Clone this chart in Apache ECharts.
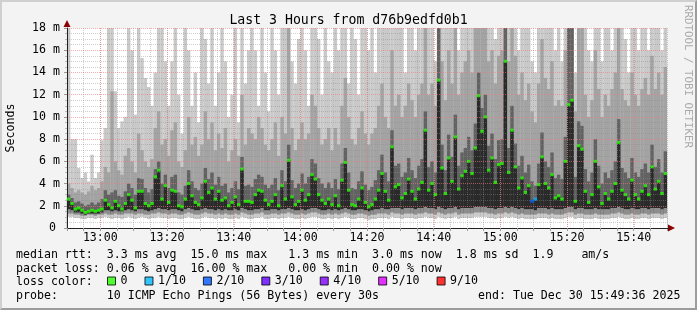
<!DOCTYPE html>
<html><head><meta charset="utf-8">
<script src="https://cdn.jsdelivr.net/npm/echarts@6/dist/echarts.min.js"></script>
<style>
html,body{margin:0;padding:0;background:#f3f3f3;}
#wrap{position:relative;width:697px;height:310px;}
#chart{width:697px;height:310px;}
#frame{position:absolute;left:0;top:0;width:697px;height:310px;box-sizing:border-box;border-top:2px solid #cfcfcf;border-left:2px solid #cfcfcf;border-right:2px solid #9c9c9c;border-bottom:2px solid #9c9c9c;pointer-events:none;}
</style></head><body>
<div id="wrap"><div id="chart"></div><div id="frame"></div></div>
<script>
// ---- time grid: one column per minute, from 12:50 (minute 50 after 12:00) ----
const startMinute = 50;
const endMinute = 230;
const xTickValues = [60, 80, 100, 120, 140, 160, 180, 200, 220];
const xTickLabels = ['13:00', '13:20', '13:40', '14:00', '14:20', '14:40', '15:00', '15:20', '15:40'];
const yTickValues = [0, 2, 4, 6, 8, 10, 12, 14, 16, 18];

// ---- median rtt (ms), per minute ----
const medianMs = [
 2.6,2.2,1.7,1.8,1.6,1.4,1.5,1.6,1.5,1.6,
 1.7,2.5,2.1,1.8,2.4,2.0,1.7,2.2,3.0,2.5,
 1.8,3.3,3.3,2.2,2.0,2.2,4.6,5.2,2.6,3.8,
 2.3,3.4,3.3,2.0,1.9,2.6,4.0,2.9,2.3,2.1,
 2.7,4.2,3.2,3.6,2.6,3.3,2.5,2.7,2.0,2.3,
 2.8,2.1,5.3,2.4,2.4,2.3,3.0,3.4,3.3,2.5,
 2.1,2.4,3.0,2.0,3.8,2.6,6.1,2.8,2.1,2.4,
 3.4,2.5,3.0,4.8,4.4,3.0,2.5,2.2,2.6,2.1,
 2.9,2.0,4.3,5.9,3.4,2.1,2.0,2.6,3.6,2.3,
 1.9,2.1,2.6,3.4,4.9,3.3,2.5,7.3,3.7,3.9,
 2.7,3.1,4.4,3.3,2.6,3.5,4.1,8.8,3.4,4.0,
 3.0,13.3,5.4,3.1,6.3,4.2,8.2,3.5,4.7,5.1,
 6.0,4.9,7.2,11.9,8.7,10.0,5.2,6.3,4.1,5.7,
 5.8,15.0,5.0,8.8,5.5,3.6,4.5,3.2,3.8,2.4,
 2.6,3.9,6.4,4.0,3.6,4.8,2.7,2.9,2.6,6.0,
 11.1,11.5,2.4,7.4,7.1,3.3,2.3,3.0,6.0,3.7,
 2.2,3.1,2.6,3.3,4.0,7.7,3.4,3.0,2.6,4.3,
 3.0,2.6,3.3,3.8,3.0,5.5,3.5,4.2,3.1,4.9
];
// lost pings out of 10, per minute
const lossTenths = [
 0,0,0,0,0,0,0,0,0,0, 0,0,0,0,0,0,0,0,0,0, 0,0,0,0,0,0,0,0,0,0,
 0,0,0,0,0,0,0,0,0,0, 0,0,0,0,0,0,0,0,0,0, 0,0,0,0,0,0,0,0,0,0,
 0,0,0,0,0,0,0,0,0,0, 0,0,0,0,0,0,0,0,0,0, 0,0,0,0,0,0,0,0,0,0,
 0,0,0,0,0,0,0,0,0,0, 0,0,0,0,0,0,0,0,0,0, 0,0,0,0,0,0,0,0,0,0,
 0,0,0,0,0,0,0,0,0,0, 0,0,0,0,0,0,0,0,0,2, 1,0,0,0,0,0,0,0,0,0,
 0,0,0,0,0,0,0,0,0,0, 0,0,0,0,0,0,0,0,0,0, 0,0,0,0,0,0,0,0,0,0
];
// ---- smoke: sorted ping levels (ms) per minute ----
const pingMin = [
 1.0,1.0,0.9,0.9,0.8,0.8,0.9,0.9,0.8,0.9, 0.9,1.0,0.9,0.8,0.9,0.9,0.8,0.9,1.0,0.9,
 0.8,0.9,1.0,0.9,0.8,0.9,0.9,1.0,0.9,0.9, 0.8,0.9,0.9,0.8,0.8,0.9,1.0,0.9,0.8,0.8,
 0.9,1.0,0.9,0.9,0.8,0.9,0.8,0.9,0.8,0.8, 0.9,0.8,1.0,0.9,0.8,0.8,0.9,0.9,1.0,0.8,
 0.8,0.9,0.9,0.8,0.9,0.9,1.0,0.9,0.8,0.8, 0.9,0.8,0.9,1.0,1.0,0.9,0.8,0.8,0.9,0.8,
 0.9,0.8,0.9,1.0,0.9,0.8,0.8,0.9,0.9,0.8, 0.7,0.8,0.8,0.9,0.9,0.9,0.8,1.0,0.9,0.9,
 0.8,0.9,0.9,0.9,0.8,0.9,0.9,1.0,0.9,0.9, 0.8,1.0,0.9,0.8,0.9,0.9,1.0,0.8,0.9,0.9,
 0.9,0.9,1.0,1.0,1.0,1.0,0.9,0.9,0.8,0.9, 0.9,1.0,0.9,1.0,0.9,0.8,0.9,0.8,0.8,0.8,
 0.8,0.9,0.9,0.9,0.8,0.9,0.8,0.8,0.8,0.9, 1.0,1.0,0.8,0.9,0.9,0.8,0.8,0.8,0.9,0.8,
 0.8,0.8,0.8,0.9,0.9,1.0,0.9,0.8,0.8,0.9, 0.8,0.8,0.9,0.9,0.8,0.9,0.9,0.9,0.8,0.9
];
const ping2 = [
 1.3,1.3,1.2,1.2,1.1,1.1,1.2,1.2,1.1,1.2, 1.2,1.3,1.2,1.2,1.3,1.2,1.2,1.3,1.3,1.3,
 1.2,1.3,1.3,1.2,1.2,1.3,1.3,1.4,1.3,1.3, 1.2,1.3,1.3,1.2,1.2,1.3,1.4,1.3,1.2,1.2,
 1.3,1.4,1.3,1.3,1.2,1.3,1.2,1.3,1.2,1.2, 1.3,1.2,1.4,1.3,1.2,1.2,1.3,1.3,1.4,1.2,
 1.2,1.3,1.3,1.2,1.3,1.3,1.4,1.3,1.2,1.2, 1.3,1.2,1.3,1.4,1.4,1.3,1.2,1.2,1.3,1.2,
 1.3,1.2,1.3,1.4,1.3,1.2,1.2,1.3,1.3,1.2, 1.1,1.2,1.2,1.3,1.3,1.3,1.2,1.4,1.3,1.3,
 1.2,1.3,1.3,1.3,1.2,1.3,1.3,1.4,1.3,1.3, 1.2,1.4,1.3,1.2,1.3,1.3,1.4,1.2,1.3,1.3,
 1.3,1.3,1.4,1.4,1.4,1.4,1.3,1.3,1.2,1.3, 1.3,1.4,1.3,1.4,1.3,1.2,1.3,1.2,1.2,1.2,
 1.2,1.3,1.3,1.3,1.2,1.3,1.2,1.2,1.2,1.3, 1.4,1.4,1.2,1.3,1.3,1.2,1.2,1.2,1.3,1.2,
 1.2,1.2,1.2,1.3,1.3,1.4,1.3,1.2,1.2,1.3, 1.2,1.2,1.3,1.3,1.2,1.3,1.3,1.3,1.2,1.3
];
const ping4 = [
 1.7,1.6,1.4,1.4,1.3,1.2,1.3,1.3,1.3,1.3, 1.4,1.6,1.6,1.5,1.6,1.5,1.5,1.6,1.7,1.6,
 1.5,1.7,1.7,1.6,1.5,1.6,1.7,1.8,1.7,1.7, 1.6,1.7,1.7,1.6,1.5,1.7,1.8,1.7,1.6,1.6,
 1.7,1.8,1.7,1.7,1.6,1.7,1.6,1.7,1.6,1.6, 1.7,1.6,1.8,1.7,1.6,1.6,1.7,1.7,1.8,1.6,
 1.6,1.7,1.7,1.6,1.7,1.7,1.8,1.7,1.6,1.6, 1.7,1.6,1.7,1.8,1.8,1.7,1.6,1.6,1.7,1.6,
 1.7,1.6,1.7,1.8,1.7,1.6,1.6,1.7,1.7,1.6, 1.5,1.6,1.7,1.7,1.8,1.7,1.7,1.8,1.8,1.8,
 1.7,1.8,1.8,1.8,1.7,1.8,1.8,1.9,1.8,1.8, 1.7,1.9,1.8,1.7,1.8,1.8,1.9,1.7,1.8,1.8,
 1.8,1.8,1.9,1.9,1.9,1.9,1.8,1.8,1.7,1.8, 1.8,1.9,1.8,1.9,1.8,1.7,1.8,1.7,1.7,1.7,
 1.6,1.8,1.8,1.8,1.7,1.8,1.7,1.7,1.7,1.8, 1.9,1.9,1.7,1.8,1.8,1.7,1.7,1.7,1.8,1.7,
 1.7,1.7,1.7,1.8,1.8,1.9,1.8,1.7,1.7,1.8, 1.7,1.7,1.8,1.8,1.7,1.8,1.8,1.8,1.7,1.8
];
const ping7 = [
 3.0,2.7,2.3,2.4,2.2,2.0,2.1,2.3,2.1,2.3, 2.6,3.4,3.0,3.2,3.4,2.9,2.8,3.3,4.0,3.6,
 3.0,4.5,4.4,3.6,3.2,3.5,5.3,6.0,4.0,4.8, 3.6,4.6,4.8,3.2,3.0,3.8,5.2,4.2,3.6,3.4,
 4.0,5.4,4.4,5.0,3.9,4.6,3.8,4.0,3.2,3.6, 4.2,3.5,6.4,3.8,3.9,3.7,4.4,4.8,4.6,3.9,
 3.6,3.9,4.5,3.4,5.2,4.2,7.5,4.3,3.6,4.0, 4.9,4.0,4.6,6.2,5.8,4.5,4.0,3.6,4.1,3.6,
 4.4,3.5,5.8,7.2,5.0,3.6,3.5,4.2,5.1,3.9, 3.4,3.7,4.3,5.2,6.6,5.0,4.2,8.8,5.6,5.8,
 4.6,5.0,6.3,5.2,4.5,5.6,6.2,10.5,5.5,6.0, 5.0,18,7.5,5.2,8.4,6.4,10.2,5.6,6.8,7.2,
 8.2,7.0,9.4,14.0,10.8,12.0,7.4,8.5,6.2,7.9, 8.0,18,7.2,11.0,7.6,5.6,6.5,5.0,5.7,4.2,
 3.8,5.8,8.6,6.0,5.5,6.8,4.5,4.8,4.4,8.2, 18,18,4.6,9.6,9.2,5.3,4.2,5.0,8.0,5.6,
 4.0,5.0,4.5,5.2,6.0,9.8,5.4,5.0,4.5,6.3, 5.0,4.6,5.3,5.8,5.0,7.5,5.5,6.2,5.0,6.9
];
const ping9 = [
 4.0,3.6,3.2,3.4,3.2,3.0,3.3,3.8,3.4,3.6, 4.2,5.5,5.0,12.3,6.0,5.2,4.8,6.5,7.2,6.0,
 5.0,8.5,7.0,6.0,5.5,6.2,9.0,10.5,7.5,8.0, 6.5,8.8,9.5,6.0,5.5,7.0,10.0,7.5,8.2,6.5,
 7.5,10.5,8.0,9.5,7.0,8.5,7.2,9.0,6.0,7.0, 8.0,6.5,12.0,7.5,9.0,8.5,8.0,10.0,9.0,7.5,
 7.0,8.0,9.5,6.5,10.0,8.5,18,9.0,7.0,8.0, 9.5,8.0,8.5,12.0,11.0,9.0,7.5,8.0,9.0,7.0,
 9.0,7.5,11.0,13.5,10.0,8.0,7.5,9.0,10.5,8.5, 7.5,8.5,9.0,11.0,13.0,10.0,9.0,16.0,11.0,12.0,
 10.0,11.0,13.0,11.5,10.0,12.0,13.0,18,12.0,13.0, 11.0,18,15.0,11.5,16.0,13.0,18,12.0,14.0,15.0,
 16.0,14.0,18,18,18,18,15.0,16.0,13.0,15.5, 16.0,18,15.0,18,15.5,12.0,14.0,11.5,13.0,10.5,
 9.5,13.0,17.0,13.5,12.5,15.0,11.0,11.5,11.0,16.0, 18,18,10.5,18,18,12.0,10.0,11.5,16.0,12.5,
 10.0,12.0,11.0,12.5,14.0,18,12.5,11.5,11.0,14.0, 12.0,11.0,12.5,13.5,12.0,15.5,12.5,14.0,12.0,14.5
];
const pingMax = [
 18,8.0,8.0,5.4,4.5,5.0,4.2,6.6,4.5,5.0, 7.9,9.0,18,18,12.3,9.0,9.6,10.0,18,16.0,
 10.2,18,15.3,13.5,12.7,11.0,14.0,18,18,15.0, 11.0,15.0,18,12.0,8.5,18,16.0,11.0,14.0,9.5,
 18,17.0,13.0,18,11.0,14.0,18,15.0,10.0,12.0, 18,9.5,18,13.0,16.0,18,16.0,11.0,18,14.0,
 10.5,18,16.0,12.0,18,18,18,15.0,13.0,17.0, 18,16.0,11.0,18,18,17.0,12.0,18,15.0,14.0,
 18,16.0,18,18,13.0,18,17.0,12.0,18,18, 16.0,18,14.0,18,18,18,18,18,18,18,
 18,14.0,18,18,16.0,18,18,18,18,18, 15.0,18,18,18,18,18,18,16.0,18,18,
 18,18,18,18,18,18,18,18,17.0,18, 18,18,18,18,18,16.0,18,18,18,15.0,
 14.0,18,18,18,18,18,16.0,18,15.0,18, 18,18,14.0,18,18,18,16.0,15.0,18,18,
 15.0,18,18,16.0,18,18,18,17.0,14.0,18, 18,16.0,18,18,16.0,18,18,18,16.0,18
];
const lossLegendNames = ['0', '1/10', '2/10', '3/10', '4/10', '5/10', '9/10'];
const lossLegendColors = ['#26ff00', '#00b8ff', '#0059ff', '#5e00ff', '#7e00ff', '#dd00ff', '#ff0000'];
const lossColorByCount = {0: '#26ff00', 1: '#00b8ff', 2: '#0059ff', 3: '#5e00ff', 4: '#7e00ff', 5: '#dd00ff', 9: '#ff0000'};

const statLines = [
 'median rtt:  3.3 ms avg  15.0 ms max   1.3 ms min  3.0 ms now  1.8 ms sd  1.9    am/s',
 'packet loss: 0.06 % avg  16.00 % max   0.00 % min  0.00 % now',
 'loss color:',
 'probe:       10 ICMP Echo Pings (56 Bytes) every 30s'
];
const endText = 'end: Tue Dec 30 15:49:36 2025';
const titleText = 'Last 3 Hours from d76b9edfd0b1';

// ---------------------------------------------------------------
const MONO = '"DejaVu Sans Mono", "Liberation Mono", monospace';
const GRID = 'rgba(140,140,140,0.42)';
const MGRID = 'rgba(240,120,120,0.6)';
const xs = medianMs.map((_, i) => startMinute + i + 0.5);
const pts = arr => arr.map((v, i) => [xs[i], v]);
const barW = 3.45;
function smoke(name, arr, color) {
  return { type: 'bar', name: name, data: pts(arr), barWidth: barW, barGap: '-100%',
    itemStyle: { color: color }, silent: true, z: 2, clip: true };
}
const series = [
  smoke('pmax', pingMax, '#c9c9c9'),
  smoke('p9', ping9, '#a3a3a3'),
  smoke('p7', ping7, '#626262'),
  smoke('pmed', medianMs, '#2a2a2a'),
  smoke('p4', ping4, '#8e8e8e'),
  smoke('p2', ping2, '#cbcbcb'),
  smoke('pmin', pingMin, '#ffffff'),
  { type: 'scatter', name: 'median', symbol: 'rect', symbolSize: [3.4, 3], z: 20, silent: true,
    data: medianMs.map((v, i) => ({ value: [xs[i], v], itemStyle: { color: lossColorByCount[lossTenths[i]] } })) }
];
lossLegendNames.forEach((n, k) => series.push({ type: 'scatter', name: n, data: [], itemStyle: { color: lossLegendColors[k] } }));

const chart = echarts.init(document.getElementById('chart'), null, { renderer: 'canvas' });
const option = {
  animation: false,
  backgroundColor: '#f3f3f3',
  title: { text: titleText, left: 'center', top: 9,
    textStyle: { fontFamily: MONO, fontSize: 13.2, fontWeight: 'normal', color: '#000' } },
  grid: { left: 67, right: 30, top: 28, bottom: 82, show: true, backgroundColor: '#ffffff', borderWidth: 0,
    containLabel: false, outerBoundsMode: 'none' },
  legend: { data: lossLegendNames.map(n => ({ name: n, icon: 'rect' })), left: 107, top: 275, padding: 0,
    itemWidth: 8, itemHeight: 8, itemGap: 17, selectedMode: false,
    itemStyle: { borderColor: '#000', borderWidth: 1 },
    textStyle: { fontFamily: MONO, fontSize: 11.6, color: '#000', padding: [0, 0, 0, 0] } },
  xAxis: { type: 'value', min: startMinute, max: endMinute, interval: 5, z: 5,
    axisLine: { show: true, onZero: false, lineStyle: { color: '#222', width: 1 } },
    axisTick: { show: true, length: 3, lineStyle: { color: '#999' } },
    axisLabel: { margin: 4, fontFamily: MONO, fontSize: 11.6, color: '#000', hideOverlap: false,
      formatter: v => { const k = xTickValues.indexOf(v); return k >= 0 ? xTickLabels[k] : ''; } },
    splitLine: { show: true, lineStyle: { type: 'dotted', width: 1, color: GRID } } },
  yAxis: { type: 'value', min: 0, max: 18, interval: 2, z: 5,
    axisLine: { show: true, lineStyle: { color: '#222', width: 1 } },
    axisTick: { show: true, length: 3, lineStyle: { color: '#999' } },
    minorTick: { show: true, splitNumber: 4, length: 2, lineStyle: { color: '#bbb' } },
    axisLabel: { margin: 7, fontFamily: MONO, fontSize: 11.6, color: '#000',
      formatter: v => { const k = yTickValues.indexOf(v); if (k < 0) return ''; return v === 0 ? '{z|0}' : v + ' m'; },
      rich: { z: { fontFamily: MONO, fontSize: 11.6, color: '#000', padding: [0, 4, 0, 0] } } },
    splitLine: { show: true, lineStyle: { type: 'dotted', width: 1, color: MGRID } },
    minorSplitLine: { show: true, lineStyle: { type: 'dotted', width: 1, color: GRID } } },
  series: series
};
chart.setOption(option);

// decorations: major vertical grid lines, arrows, stat text lines, vertical texts
const topLeft = chart.convertToPixel({ gridIndex: 0 }, [startMinute, 18]);
const botLeft = chart.convertToPixel({ gridIndex: 0 }, [startMinute, 0]);
const botRight = chart.convertToPixel({ gridIndex: 0 }, [endMinute, 0]);
const ax = Math.round(topLeft[0]), ay = Math.round(topLeft[1]);
const bx = Math.round(botRight[0]), by = Math.round(botRight[1]);
const midY = (topLeft[1] + botLeft[1]) / 2;
const lineYs = [255, 268.5, 282.3, 296];
const graphics = [];
xTickValues.forEach(v => {
  const px = Math.round(chart.convertToPixel({ gridIndex: 0 }, [v, 0])[0]) + 0.5;
  graphics.push({ type: 'line', z: 15, silent: true,
    shape: { x1: px, y1: topLeft[1], x2: px, y2: botLeft[1] },
    style: { stroke: MGRID, lineWidth: 1, lineDash: [1, 1] } });
});
graphics.push(
  { type: 'polygon', shape: { points: [[ax - 3.5, ay - 1], [ax + 3.5, ay - 1], [ax, ay - 8]] }, style: { fill: '#8b0000' }, z: 30 },
  { type: 'polygon', shape: { points: [[bx + 1, by - 3.5], [bx + 1, by + 3.5], [bx + 8, by]] }, style: { fill: '#8b0000' }, z: 30 },
  { type: 'line', shape: { x1: bx, y1: by + 0.5, x2: bx + 2, y2: by + 0.5 }, style: { stroke: '#222', lineWidth: 1 }, z: 30 },
  { type: 'text', x: 11, y: midY, rotation: Math.PI / 2, z: 30,
    style: { text: 'Seconds', font: '11.6px ' + MONO, fill: '#000', textAlign: 'center', textVerticalAlign: 'middle' } },
  { type: 'text', x: 688, y: 5, rotation: -Math.PI / 2, z: 30,
    style: { text: 'RRDTOOL / TOBI OETIKER', font: '10.8px ' + MONO, fill: '#aaaaaa', textAlign: 'left', textVerticalAlign: 'middle' } },
  { type: 'text', x: 478, y: lineYs[3], z: 30,
    style: { text: endText, font: '11.6px ' + MONO, fill: '#000', textAlign: 'left', textVerticalAlign: 'middle' } }
);
statLines.forEach((t, k) => graphics.push({ type: 'text', x: 16, y: lineYs[k], z: 30,
  style: { text: t, font: '11.6px ' + MONO, fill: '#000', textAlign: 'left', textVerticalAlign: 'middle' } }));
chart.setOption({ graphic: graphics });
</script>
</body></html>
